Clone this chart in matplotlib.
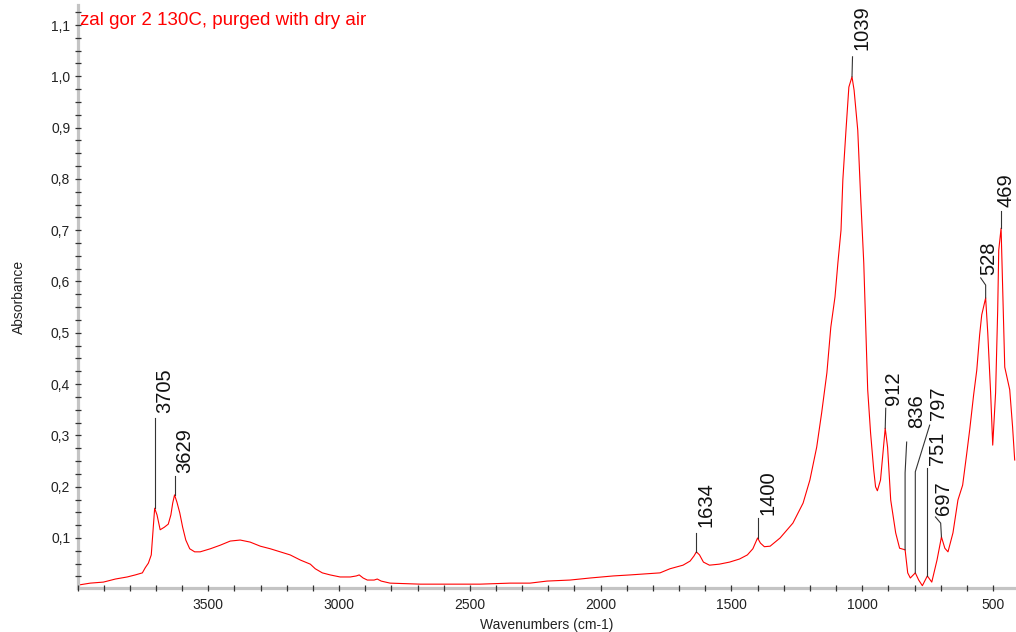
import matplotlib
matplotlib.use("Agg")
import matplotlib.pyplot as plt
from matplotlib.ticker import MultipleLocator, FuncFormatter

plt.rcParams['font.family'] = ['Liberation Sans', 'DejaVu Sans']

# ---- spectrum (wavenumber cm-1, absorbance) ----
wavenumber = [4000, 3951, 3901, 3855, 3810, 3779, 3752, 3741, 3729, 3718, 3711, 3705,
              3696, 3684, 3668, 3653, 3643, 3636, 3629, 3620, 3609, 3598, 3586, 3571, 3552, 3531,
              3492, 3454, 3416, 3378, 3340, 3301, 3263, 3225, 3187, 3148, 3110, 3091, 3064, 3034, 2996,
              2957, 2934, 2923, 2908, 2892, 2866, 2854, 2839, 2805, 2690, 2575, 2461, 2346, 2270,
              2205, 2117, 2040, 1952, 1887, 1830, 1773, 1735, 1685, 1658, 1643, 1634,
              1622, 1607, 1584, 1546, 1507, 1469, 1439, 1418, 1400, 1389, 1374, 1352,
              1314, 1265, 1226, 1200, 1174, 1155, 1135, 1120, 1104, 1093, 1081, 1074, 1062, 1051, 1039,
              1031, 1017, 1006, 994, 986, 979, 968, 956, 949, 942, 930, 923, 912,
              903, 891, 872, 857, 836, 826, 816, 797, 784, 770, 751, 734, 714, 697,
              684, 672, 653, 634, 616, 601, 589, 574, 562, 551, 543, 528,
              520, 509, 501, 490, 482, 478, 469, 463, 455, 436, 425, 417]
absorbance = [0.008, 0.012, 0.014, 0.020, 0.024, 0.028, 0.032, 0.042, 0.051, 0.067, 0.116, 0.158,
              0.145, 0.116, 0.121, 0.127, 0.145, 0.168, 0.184, 0.170, 0.149, 0.121, 0.096, 0.079, 0.073, 0.073,
              0.079, 0.086, 0.094, 0.096, 0.092, 0.084, 0.079, 0.073, 0.067, 0.057, 0.049, 0.040, 0.032, 0.028, 0.024,
              0.024, 0.026, 0.028, 0.022, 0.018, 0.018, 0.020, 0.016, 0.012, 0.010, 0.010, 0.010, 0.012, 0.012,
              0.016, 0.018, 0.022, 0.026, 0.028, 0.030, 0.032, 0.040, 0.047, 0.055, 0.065, 0.073,
              0.067, 0.053, 0.047, 0.049, 0.053, 0.059, 0.067, 0.079, 0.100, 0.090, 0.083, 0.084,
              0.100, 0.129, 0.168, 0.213, 0.277, 0.344, 0.422, 0.511, 0.570, 0.636, 0.700, 0.798, 0.895, 0.979, 0.999,
              0.973, 0.895, 0.765, 0.636, 0.505, 0.389, 0.305, 0.233, 0.200, 0.192, 0.213, 0.252, 0.314,
              0.277, 0.174, 0.110, 0.080, 0.077, 0.032, 0.022, 0.032, 0.018, 0.007, 0.026, 0.014, 0.057, 0.102,
              0.080, 0.073, 0.110, 0.174, 0.203, 0.262, 0.311, 0.379, 0.427, 0.496, 0.535, 0.568,
              0.500, 0.383, 0.281, 0.383, 0.544, 0.661, 0.704, 0.589, 0.433, 0.389, 0.316, 0.252]

# ---- peak labels ----
peak_labels = ["3705", "3629", "1634", "1400", "1039", "912", "836", "797",
               "751", "697", "528", "469"]
peak_wn = [3705, 3629, 1634, 1400, 1039, 912, 836, 797, 751, 697, 528, 469]
peak_abs = [0.158, 0.184, 0.073, 0.100, 0.999, 0.314, 0.077, 0.032, 0.026,
            0.102, 0.568, 0.704]
# leader line vertices (wn, abs) after the peak point, and text anchor (bottom-centre)
leader_paths = [
    [(3705, 0.334)],
    [(3629, 0.221)],
    [(1634, 0.110)],
    [(1400, 0.139)],
    [(1037, 1.038)],
    [(910, 0.353)],
    [(836, 0.227), (830, 0.287)],
    [(797, 0.229), (742, 0.320)],
    [(751, 0.236)],
    [(700, 0.129), (720, 0.141)],
    [(528, 0.593), (547, 0.607)],
    [(469, 0.738)],
]
text_pos = [(3665, 0.344), (3589, 0.227), (1596, 0.121), (1362, 0.145),
            (1002, 1.051), (880, 0.359), (792, 0.314), (708, 0.330),
            (712, 0.242), (689, 0.145), (517, 0.613), (452, 0.745)]

title = "zal gor 2 130C, purged with dry air"

W, H = 1016, 632
fig = plt.figure(figsize=(W / 100, H / 100), dpi=100)
left_px, bottom_px, top_px = 77.5, 588, 5
ax = fig.add_axes([left_px / W, 1 - bottom_px / H, 1 - left_px / W,
                   (bottom_px - top_px) / H])

ax.plot(wavenumber, absorbance, color='#ff0000', lw=0.8, zorder=2)

for lab, wn, ab, path, (tx, ty) in zip(peak_labels, peak_wn, peak_abs,
                                       leader_paths, text_pos):
    xs = [wn] + [p[0] for p in path]
    ys = [ab] + [p[1] for p in path]
    ax.plot(xs, ys, color='#333333', lw=0.8, zorder=3)
    ax.text(tx, ty, lab, rotation=90, ha='center', va='bottom',
            fontsize=14.5, color='#111111', zorder=4, clip_on=False)

ax.set_xlim(4000, 412)
ax.set_ylim(0.0025, 1.139)

ax.set_xticks([3500, 3000, 2500, 2000, 1500, 1000, 500])
ax.xaxis.set_minor_locator(MultipleLocator(100))
ax.set_yticks([0.1, 0.2, 0.3, 0.4, 0.5, 0.6, 0.7, 0.8, 0.9, 1.0, 1.1])
ax.yaxis.set_minor_locator(MultipleLocator(0.025))
ax.yaxis.set_major_formatter(FuncFormatter(lambda v, p: f"{v:.1f}".replace('.', ',')))

for s in ['top', 'right']:
    ax.spines[s].set_visible(False)
for s in ['left', 'bottom']:
    ax.spines[s].set_color('#c4c4c4')
    ax.spines[s].set_linewidth(2.3)

ax.tick_params(which='both', direction='inout', length=4.5, width=0.9,
               color='#333333', labelsize=10, labelcolor='#222222')
ax.tick_params(axis='x', which='major', pad=5)
ax.tick_params(axis='y', which='major', pad=3)
ax.xaxis.set_zorder(3)
ax.yaxis.set_zorder(3)

ax.set_xlabel("Wavenumbers (cm-1)", fontsize=10, color='#222222', labelpad=4)
ax.set_ylabel("Absorbance", fontsize=10, color='#222222', labelpad=18)

fig.text(80 / W, 1 - 12 / H, title, color='#ff0000', fontsize=13.5,
         ha='left', va='top')

fig.savefig("out.png", dpi=100)
